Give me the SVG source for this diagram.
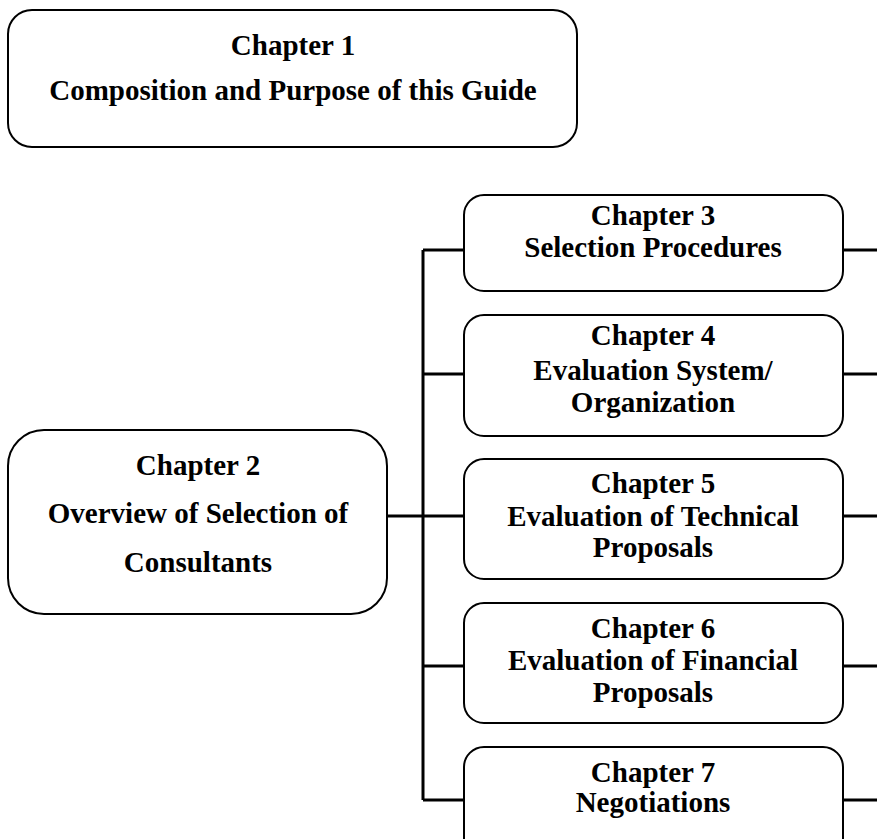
<svg xmlns="http://www.w3.org/2000/svg" width="877" height="839" viewBox="0 0 877 839">
<style>
.box{fill:#fff;stroke:#000;stroke-width:2}
.t{font-family:"Liberation Serif","Times New Roman",serif;font-weight:bold;font-size:29px;fill:#000;text-anchor:middle}
.c{fill:none;stroke:#000;stroke-width:3}
</style>
<rect width="877" height="839" fill="#fff"/>
<g id="connectors">
<path class="c" d="M387,516 H464 M423,250 V800 M423,250 H464 M423,374 H464 M423,666 H464 M423,800 H464 M843,250 H877 M843,374 H877 M843,516 H877 M843,666 H877 M843,800 H877"/>
</g>
<g id="ch1"><rect class="box" x="8" y="10" width="569" height="137" rx="24"/>
<text class="t" x="293" y="55">Chapter 1</text><text class="t" x="293" y="100">Composition and Purpose of this Guide</text></g>
<g id="ch2"><rect class="box" x="8" y="430" width="379" height="184" rx="36"/>
<text class="t" x="198" y="475">Chapter 2</text><text class="t" x="198" y="523">Overview of Selection of</text><text class="t" x="198" y="572">Consultants</text></g>
<g id="ch3"><rect class="box" x="464" y="195" width="379" height="96" rx="20"/>
<text class="t" x="653" y="225">Chapter 3</text><text class="t" x="653" y="257">Selection Procedures</text></g>
<g id="ch4"><rect class="box" x="464" y="315" width="379" height="121" rx="20"/>
<text class="t" x="653" y="345">Chapter 4</text><text class="t" x="653" y="380">Evaluation System/</text><text class="t" x="653" y="412">Organization</text></g>
<g id="ch5"><rect class="box" x="464" y="459" width="379" height="120" rx="20"/>
<text class="t" x="653" y="493">Chapter 5</text><text class="t" x="653" y="526">Evaluation of Technical</text><text class="t" x="653" y="557">Proposals</text></g>
<g id="ch6"><rect class="box" x="464" y="603" width="379" height="120" rx="20"/>
<text class="t" x="653" y="638">Chapter 6</text><text class="t" x="653" y="670">Evaluation of Financial</text><text class="t" x="653" y="702">Proposals</text></g>
<g id="ch7"><rect class="box" x="464" y="747" width="379" height="120" rx="20"/>
<text class="t" x="653" y="782">Chapter 7</text><text class="t" x="653" y="812">Negotiations</text></g>
</svg>
